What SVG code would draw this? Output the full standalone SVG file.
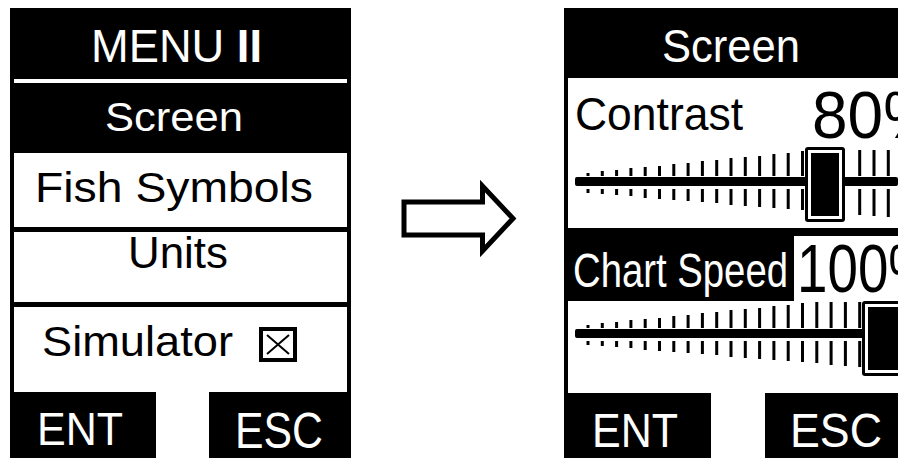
<svg xmlns="http://www.w3.org/2000/svg" width="898" height="459" viewBox="0 0 898 459">
<style>
text { font-family: "Liberation Sans", Arial, sans-serif; }
.w { fill: #fff; }
.b { fill: #000; }
.tick { stroke: #000; stroke-width: 3; fill: none; }
</style>
<rect width="898" height="459" fill="#fff"/>

<g id="menu-screen">
  <rect x="10" y="8" width="341" height="145" fill="#000"/>
  <rect x="14" y="79" width="333" height="4" fill="#fff"/>
  <text class="w" x="91" y="62" font-size="47" textLength="171" lengthAdjust="spacingAndGlyphs">MENU <tspan font-weight="bold">II</tspan></text>
  <text class="w" x="105" y="131" font-size="41" textLength="138" lengthAdjust="spacingAndGlyphs">Screen</text>
  <rect x="10" y="153" width="341" height="239" fill="#000"/>
  <rect x="14" y="153" width="333" height="74" fill="#fff"/>
  <rect x="14" y="232" width="333" height="70" fill="#fff"/>
  <rect x="14" y="307" width="333" height="85" fill="#fff"/>
  <text class="b" x="35" y="202" font-size="42" textLength="278" lengthAdjust="spacingAndGlyphs">Fish Symbols</text>
  <text class="b" x="128" y="268" font-size="44" textLength="100" lengthAdjust="spacingAndGlyphs">Units</text>
  <text class="b" x="42" y="356" font-size="42" textLength="191" lengthAdjust="spacingAndGlyphs">Simulator</text>
  <rect x="261" y="329" width="34" height="31" fill="#fff" stroke="#000" stroke-width="4"/>
  <path d="M267 335L289 354M289 335L267 354" stroke="#000" stroke-width="2" fill="none"/>
  <rect x="10" y="392" width="146" height="66" fill="#000"/>
  <rect x="209" y="392" width="142" height="66" fill="#000"/>
  <text class="w" x="37" y="445" font-size="47" textLength="86" lengthAdjust="spacingAndGlyphs">ENT</text>
  <text class="w" x="235" y="448" font-size="50" textLength="88" lengthAdjust="spacingAndGlyphs">ESC</text>
</g>

<g id="connectors">
  <path d="M404 202H482.5V186L513 218.5L482.5 251V235H404Z" fill="#fff" stroke="#000" stroke-width="5" stroke-linejoin="miter" stroke-miterlimit="10"/>
</g>

<g id="settings-screen">
  <rect x="564" y="8" width="334" height="70" fill="#000"/>
  <rect x="564" y="78" width="4" height="315" fill="#000"/>
  <text class="w" x="662" y="62" font-size="47" textLength="138" lengthAdjust="spacingAndGlyphs">Screen</text>
  <text class="b" x="575" y="130" font-size="46" textLength="168" lengthAdjust="spacingAndGlyphs">Contrast</text>
  <text class="b" x="812" y="138" font-size="67" textLength="128" lengthAdjust="spacingAndGlyphs">80%</text>

  <g id="slider-contrast">
    <rect x="575" y="177" width="323" height="9" rx="2" fill="#000"/>
    <path class="tick" d="M588 173V176M602.3 171V176M616.6 170V176M630.9 168V176M645.2 167V176M659.5 166V176M673.8 164V176M688.1 163V176M702.4 161V176M716.7 160V176M731 158V176M745.3 157V176M759.6 156V176M773.9 154V176M788.2 153V176M802.5 151V176M859.7 150V176M874 150V176M888.3 150V176"/>
    <path class="tick" d="M588 189V193M602.3 189V194M616.6 189V195M630.9 189V196M645.2 189V198M659.5 189V199M673.8 189V200M688.1 189V201M702.4 189V202M716.7 189V203M731 189V205M745.3 189V206M759.6 189V207M773.9 189V208M788.2 189V209M802.5 189V210M859.7 189V215M874 189V216M888.3 189V217"/>
    <rect x="805" y="147" width="40" height="75" rx="3" fill="#000"/>
    <rect x="808" y="150" width="34" height="69" fill="#fff"/>
    <rect x="811" y="153" width="28" height="63" fill="#000"/>
  </g>

  <rect x="564" y="228" width="230" height="73" fill="#000"/>
  <rect x="794" y="228" width="104" height="8" fill="#000"/>
  <text class="w" x="573" y="287" font-size="49" textLength="215" lengthAdjust="spacingAndGlyphs">Chart Speed</text>
  <text class="b" x="797" y="292" font-size="68" textLength="140" lengthAdjust="spacingAndGlyphs">100%</text>

  <g id="slider-speed">
    <rect x="575" y="329" width="290" height="9" rx="2" fill="#000"/>
    <path class="tick" d="M588 325V328M602.3 323V328M616.6 322V328M630.9 320V328M645.2 319V328M659.5 318V328M673.8 316V328M688.1 315V328M702.4 313V328M716.7 312V328M731 310V328M745.3 309V328M759.6 308V328M773.9 306V328M788.2 305V328M802.5 303V328M816.8 302V328M831.1 302V328M845.4 302V328M859.7 302V328"/>
    <path class="tick" d="M588 341V345M602.3 341V346M616.6 341V347M630.9 341V348M645.2 341V350M659.5 341V351M673.8 341V352M688.1 341V353M702.4 341V354M716.7 341V355M731 341V357M745.3 341V358M759.6 341V359M773.9 341V360M788.2 341V361M802.5 341V362M816.8 341V363M831.1 341V365M845.4 341V366M859.7 341V367"/>
    <rect x="862" y="301" width="50" height="75" rx="3" fill="#000"/>
    <rect x="865" y="304" width="44" height="69" fill="#fff"/>
    <rect x="868" y="307" width="38" height="63" fill="#000"/>
  </g>

  <rect x="564" y="393" width="147" height="65" fill="#000"/>
  <rect x="765" y="393" width="133" height="65" fill="#000"/>
  <text class="w" x="592" y="447" font-size="48" textLength="86" lengthAdjust="spacingAndGlyphs">ENT</text>
  <text class="w" x="790" y="447" font-size="48" textLength="92" lengthAdjust="spacingAndGlyphs">ESC</text>
</g>
</svg>
